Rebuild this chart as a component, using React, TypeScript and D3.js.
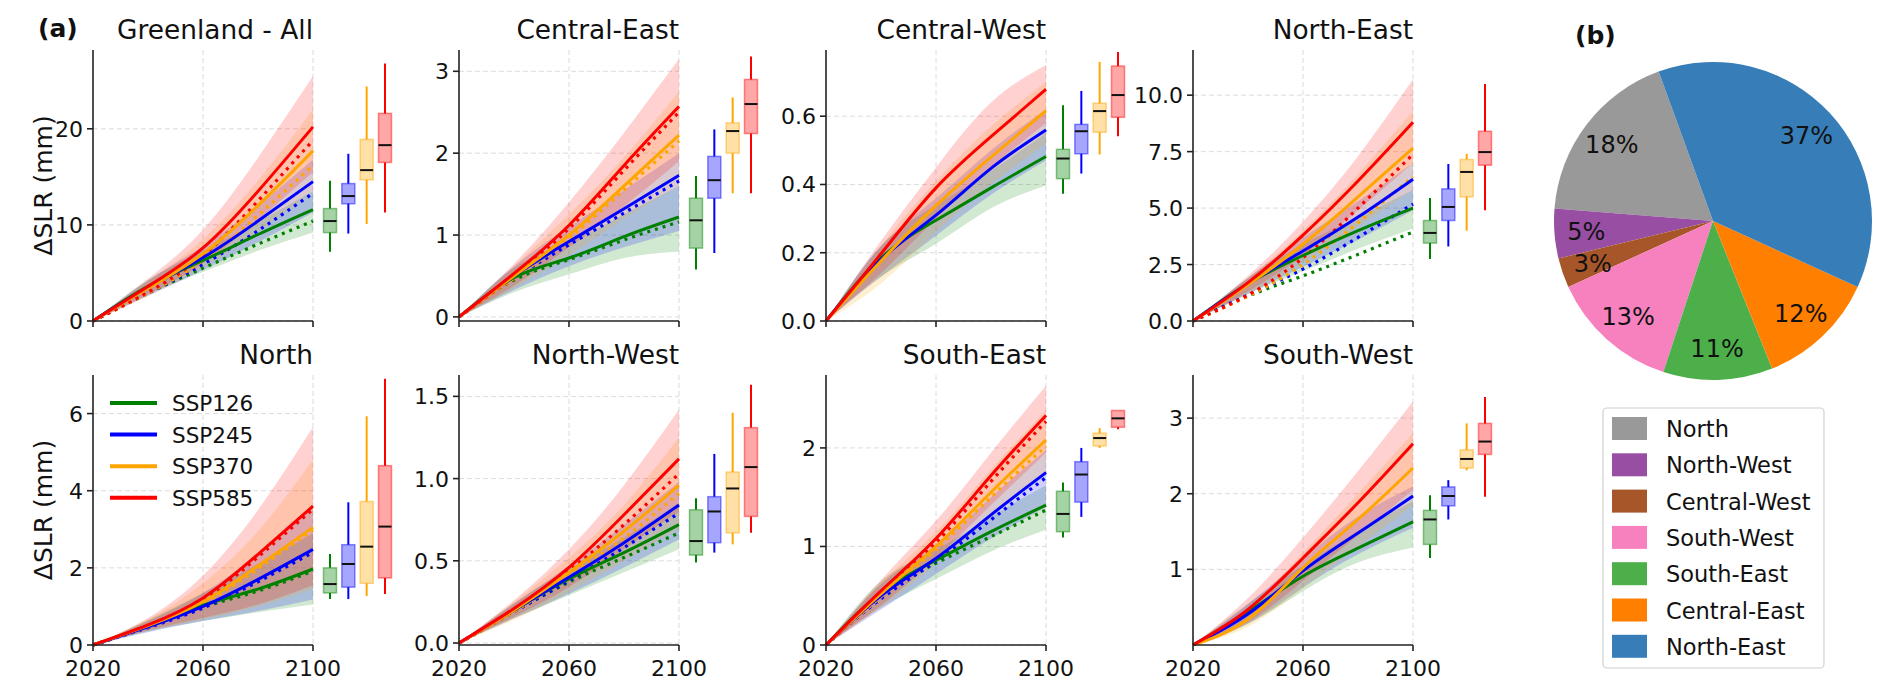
import * as d3 from "d3";

// ---- data ----
const years = [2020, 2040, 2060, 2080, 2100];
const scenarios = ["SSP126", "SSP245", "SSP370", "SSP585"];
const scenarioColors = ["green", "blue", "orange", "red"];

const regions = [
  "Greenland - All", "Central-East", "Central-West", "North-East",
  "North", "North-West", "South-East", "South-West",
];
const yDomains = [
  [0, 28.2], [-0.05, 3.26], [0, 0.794], [0, 12.0],
  [0, 7.0], [-0.012, 1.63], [0, 2.74], [0, 3.57],
];
const yTickValues = [
  [0, 10, 20], [0, 1, 2, 3], [0, 0.2, 0.4, 0.6], [0, 2.5, 5, 7.5, 10],
  [0, 2, 4, 6], [0, 0.5, 1, 1.5], [0, 1, 2], [1, 2, 3],
];
const yTickFormats = ["d", "d", ".1f", ".1f", "d", ".1f", "d", "d"];

// per region: [SSP126, SSP245, SSP370, SSP585] at years
// box = [whisker low, q1, median, q3, whisker high]
const glMid = [[0, 3.6, 6.3, 9.0, 11.6], [0, 3.5, 6.6, 10.4, 14.5], [0, 3.4, 7.0, 12.0, 17.7], [0, 3.6, 7.6, 13.5, 20.2]];
const glDot = [[0, 2.9, 5.5, 8.0, 10.4], [0, 2.9, 5.9, 9.4, 13.3], [0, 2.9, 6.3, 11.0, 16.2], [0, 3.0, 6.8, 12.5, 18.8]];
const glLo = [[0, 2.8, 5.1, 7.3, 9.2], [0, 2.6, 5.3, 8.2, 11.3], [0, 2.6, 5.6, 9.3, 13.5], [0, 2.7, 6.0, 10.5, 15.5]];
const glHi = [[0, 4.3, 7.3, 10.3, 13.5], [0, 4.2, 7.8, 12.0, 16.8], [0, 4.1, 8.5, 14.6, 22.0], [0, 4.4, 9.5, 17.0, 25.5]];
const glBox = [[7.2, 9.2, 10.4, 11.7, 14.6], [9.1, 12.2, 13.0, 14.3, 17.4], [10.1, 14.7, 15.7, 18.9, 24.4], [11.3, 16.5, 18.3, 21.6, 26.8]];

const ceMid = [[0, 0.48, 0.72, 0.98, 1.22], [0, 0.5, 0.92, 1.32, 1.73], [0, 0.5, 1.0, 1.6, 2.22], [0, 0.53, 1.12, 1.85, 2.57]];
const ceDot = [[0, 0.45, 0.7, 0.94, 1.16], [0, 0.47, 0.88, 1.27, 1.66], [0, 0.47, 0.96, 1.55, 2.15], [0, 0.5, 1.08, 1.79, 2.5]];
const ceLo = [[0, 0.3, 0.52, 0.72, 0.8], [0, 0.33, 0.62, 0.85, 1.05], [0, 0.35, 0.75, 1.2, 1.6], [0, 0.38, 0.85, 1.35, 1.9]];
const ceHi = [[0, 0.6, 0.92, 1.25, 1.6], [0, 0.62, 1.1, 1.55, 2.0], [0, 0.62, 1.25, 1.95, 2.75], [0, 0.65, 1.4, 2.25, 3.15]];
const ceBox = [[0.58, 0.84, 1.18, 1.45, 1.72], [0.78, 1.45, 1.67, 1.96, 2.29], [1.51, 2.0, 2.27, 2.37, 2.68], [1.51, 2.24, 2.6, 2.9, 3.18]];

const cwMid = [[0, 0.185, 0.295, 0.39, 0.482], [0, 0.18, 0.31, 0.447, 0.56], [0, 0.176, 0.338, 0.48, 0.616], [0, 0.197, 0.39, 0.54, 0.679]];
const cwLo = [[0, 0.13, 0.226, 0.33, 0.397], [0, 0.13, 0.25, 0.37, 0.47], [0, 0.11, 0.26, 0.4, 0.52], [0, 0.14, 0.3, 0.45, 0.58]];
const cwHi = [[0, 0.22, 0.34, 0.44, 0.55], [0, 0.22, 0.36, 0.5, 0.62], [0, 0.22, 0.41, 0.57, 0.7], [0, 0.235, 0.45, 0.64, 0.75]];
const cwBox = [[0.373, 0.417, 0.476, 0.503, 0.632], [0.432, 0.49, 0.556, 0.576, 0.674], [0.488, 0.553, 0.615, 0.638, 0.759], [0.541, 0.597, 0.662, 0.747, 0.788]];

const neMid = [[0, 1.65, 2.9, 4.0, 5.0], [0, 1.65, 3.1, 4.6, 6.28], [0, 1.6, 3.4, 5.5, 7.65], [0, 1.7, 3.8, 6.2, 8.8]];
const neDot = [[0, 1.1, 2.0, 2.95, 3.94], [0, 1.15, 2.3, 3.7, 5.18], [0, 1.1, 2.5, 4.35, 6.4], [0, 1.15, 2.8, 5.0, 7.38]];
const neLo = [[0, 1.2, 2.2, 3.2, 4.1], [0, 1.2, 2.4, 3.6, 4.9], [0, 1.2, 2.6, 4.2, 5.8], [0, 1.3, 2.9, 4.9, 7.0]];
const neHi = [[0, 1.9, 3.4, 4.6, 5.8], [0, 1.9, 3.7, 5.3, 7.0], [0, 1.9, 4.0, 6.5, 9.3], [0, 2.0, 4.4, 7.3, 10.7]];
const neBox = [[2.75, 3.45, 3.9, 4.45, 5.45], [3.3, 4.45, 5.05, 5.85, 6.95], [4.0, 5.5, 6.6, 7.15, 7.4], [4.9, 6.9, 7.48, 8.4, 10.5]];

const noMid = [[0, 0.5, 1.03, 1.45, 1.97], [0, 0.47, 1.0, 1.7, 2.48], [0, 0.5, 1.12, 2.05, 3.05], [0, 0.52, 1.22, 2.35, 3.6]];
const noDot = [[0, 0.47, 0.98, 1.4, 1.92], [0, 0.45, 0.96, 1.64, 2.4], [0, 0.47, 1.07, 1.98, 2.98], [0, 0.49, 1.17, 2.28, 3.52]];
const noLo = [[0, 0.35, 0.62, 0.85, 1.05], [0, 0.33, 0.62, 0.88, 1.18], [0, 0.36, 0.66, 1.0, 1.45], [0, 0.38, 0.7, 1.05, 1.55]];
const noHi = [[0, 0.65, 1.35, 2.1, 2.9], [0, 0.62, 1.35, 2.35, 3.6], [0, 0.66, 1.6, 2.95, 4.8], [0, 0.7, 1.8, 3.5, 5.65]];
const noBox = [[1.19, 1.35, 1.58, 2.0, 2.36], [1.19, 1.5, 2.1, 2.6, 3.7], [1.27, 1.6, 2.55, 3.72, 5.93], [1.32, 1.74, 3.07, 4.65, 6.9]];

const nwMid = [[0, 0.2, 0.39, 0.55, 0.72], [0, 0.2, 0.4, 0.61, 0.84], [0, 0.2, 0.43, 0.68, 0.96], [0, 0.21, 0.46, 0.78, 1.12]];
const nwDot = [[0, 0.19, 0.37, 0.52, 0.67], [0, 0.19, 0.38, 0.58, 0.79], [0, 0.19, 0.41, 0.64, 0.91], [0, 0.2, 0.44, 0.72, 1.03]];
const nwLo = [[0, 0.15, 0.29, 0.43, 0.57], [0, 0.15, 0.3, 0.46, 0.63], [0, 0.14, 0.31, 0.5, 0.7], [0, 0.16, 0.34, 0.57, 0.8]];
const nwHi = [[0, 0.24, 0.45, 0.64, 0.85], [0, 0.24, 0.47, 0.72, 0.98], [0, 0.25, 0.52, 0.84, 1.25], [0, 0.26, 0.57, 0.96, 1.42]];
const nwBox = [[0.49, 0.535, 0.62, 0.81, 0.88], [0.55, 0.61, 0.8, 0.89, 1.15], [0.6, 0.67, 0.94, 1.04, 1.4], [0.67, 0.77, 1.07, 1.31, 1.57]];

const seMid = [[0, 0.53, 0.86, 1.15, 1.42], [0, 0.5, 0.88, 1.32, 1.75], [0, 0.52, 1.0, 1.55, 2.08], [0, 0.55, 1.08, 1.72, 2.33]];
const seDot = [[0, 0.5, 0.83, 1.1, 1.37], [0, 0.47, 0.85, 1.27, 1.7], [0, 0.49, 0.97, 1.5, 2.02], [0, 0.52, 1.04, 1.66, 2.27]];
const seLo = [[0, 0.38, 0.67, 0.95, 1.17], [0, 0.36, 0.72, 1.08, 1.4], [0, 0.38, 0.82, 1.3, 1.75], [0, 0.4, 0.88, 1.42, 1.95]];
const seHi = [[0, 0.65, 0.97, 1.3, 1.62], [0, 0.62, 1.02, 1.5, 1.98], [0, 0.63, 1.15, 1.78, 2.38], [0, 0.66, 1.26, 1.95, 2.63]];
const seBox = [[1.09, 1.15, 1.33, 1.56, 1.65], [1.3, 1.45, 1.73, 1.86, 2.0], [2.0, 2.02, 2.1, 2.15, 2.2], [2.19, 2.21, 2.3, 2.38, 2.38]];

const swMid = [[0, 0.44, 0.91, 1.28, 1.63], [0, 0.41, 0.98, 1.48, 1.97], [0, 0.34, 1.02, 1.66, 2.34], [0, 0.47, 1.15, 1.88, 2.66]];
const swLo = [[0, 0.28, 0.71, 1.09, 1.29], [0, 0.28, 0.76, 1.2, 1.55], [0, 0.24, 0.75, 1.3, 1.85], [0, 0.3, 0.85, 1.45, 2.05]];
const swHi = [[0, 0.55, 1.05, 1.5, 1.9], [0, 0.54, 1.15, 1.7, 2.1], [0, 0.5, 1.22, 2.0, 2.8], [0, 0.62, 1.42, 2.3, 3.22]];
const swBox = [[1.15, 1.33, 1.66, 1.78, 1.98], [1.66, 1.84, 1.97, 2.09, 2.18], [2.31, 2.34, 2.46, 2.58, 2.93], [1.96, 2.52, 2.69, 2.93, 3.28]];

const regionMid = [glMid, ceMid, cwMid, neMid, noMid, nwMid, seMid, swMid];
const regionDot = [glDot, ceDot, null, neDot, noDot, nwDot, seDot, null];
const regionLo = [glLo, ceLo, cwLo, neLo, noLo, nwLo, seLo, swLo];
const regionHi = [glHi, ceHi, cwHi, neHi, noHi, nwHi, seHi, swHi];
const regionBox = [glBox, ceBox, cwBox, neBox, noBox, nwBox, seBox, swBox];

// pie (b)
const pieRegions = ["North", "North-West", "Central-West", "South-West", "South-East", "Central-East", "North-East"];
const pieShares = [18, 5, 3, 13, 11, 12, 37];
const pieColors = ["#999999", "#984ea3", "#a65628", "#f781bf", "#4daf4a", "#ff7f00", "#377eb8"];

// ---- layout ----
const W = 1892;
const H = 695;
const FONT = "DejaVu Sans";
const TICK_FS = 22;
const TITLE_FS = 26.4;
const LABEL_FS = 25;
const panelLeft = [93, 459, 826, 1193];
const panelTop = [50, 375];
const panelBottom = [321, 645];
const plotW = 220;

function Panel({ idx }: { idx: number }) {
  const col = idx % 4;
  const row = Math.floor(idx / 4);
  const left = panelLeft[col];
  const right = left + plotW;
  const top = panelTop[row];
  const bottom = panelBottom[row];

  const x = d3.scaleLinear().domain([2020, 2100]).range([left, right]);
  const y = d3.scaleLinear().domain(yDomains[idx]).range([bottom, top]);
  const bx = d3.scalePoint<string>().domain(scenarios).range([right + 17, right + 72]);
  const fmt = d3.format(yTickFormats[idx]);

  const mid = regionMid[idx];
  const dot = regionDot[idx];
  const lo = regionLo[idx];
  const hi = regionHi[idx];
  const box = regionBox[idx];

  const line = (vals: number[]) =>
    d3.line<number>().x((_, i) => x(years[i])).y((d) => y(d)).curve(d3.curveNatural)(vals) || "";
  const band = (a: number[], b: number[]) =>
    d3.area<number>()
      .x((_, i) => x(years[i]))
      .y0((_, i) => y(a[i]))
      .y1((_, i) => y(b[i]))
      .curve(d3.curveNatural)(years) || "";

  const boxW = 13;

  return (
    <g>
      {/* grid */}
      {yTickValues[idx].map((t) => (
        <line key={"gy" + t} x1={left} x2={right} y1={y(t)} y2={y(t)} stroke="#dcdcdc" strokeWidth={1} strokeDasharray="5,3" />
      ))}
      {[2060, 2100].map((t) => (
        <line key={"gx" + t} x1={x(t)} x2={x(t)} y1={top} y2={bottom} stroke="#dcdcdc" strokeWidth={1} strokeDasharray="5,3" />
      ))}

      {/* uncertainty bands */}
      {scenarios.map((s, k) => (
        <path key={"b" + s} d={band(lo[k], hi[k])} fill={scenarioColors[k]} fillOpacity={0.18} stroke="none" />
      ))}
      {/* dotted lines */}
      {dot &&
        scenarios.map((s, k) => (
          <path key={"d" + s} d={line(dot[k])} fill="none" stroke={scenarioColors[k]} strokeWidth={3.2} strokeDasharray="3,5" />
        ))}
      {/* median lines */}
      {scenarios.map((s, k) => (
        <path key={"m" + s} d={line(mid[k])} fill="none" stroke={scenarioColors[k]} strokeWidth={3} />
      ))}

      {/* box plots at 2100 */}
      {scenarios.map((s, k) => {
        const cx = bx(s) as number;
        const [wl, q1, md, q3, wh] = box[k];
        const c = scenarioColors[k];
        return (
          <g key={"bx" + s}>
            <line x1={cx} x2={cx} y1={y(wl)} y2={y(q1)} stroke={c} strokeWidth={2} />
            <line x1={cx} x2={cx} y1={y(q3)} y2={y(wh)} stroke={c} strokeWidth={2} />
            <rect x={cx - boxW / 2} y={y(q3)} width={boxW} height={Math.max(1, y(q1) - y(q3))}
              fill={c} fillOpacity={0.35} stroke={c} strokeOpacity={0.45} strokeWidth={1.5} />
            <line x1={cx - boxW / 2} x2={cx + boxW / 2} y1={y(md)} y2={y(md)} stroke="#111" strokeWidth={2} />
          </g>
        );
      })}

      {/* axes */}
      <line x1={left} x2={left} y1={top} y2={bottom} stroke="#222" strokeWidth={1.6} />
      <line x1={left} x2={right} y1={bottom} y2={bottom} stroke="#222" strokeWidth={1.6} />
      {yTickValues[idx].map((t) => (
        <g key={"ty" + t}>
          <line x1={left - 6} x2={left} y1={y(t)} y2={y(t)} stroke="#222" strokeWidth={1.6} />
          <text x={left - 10} y={y(t) + 8} textAnchor="end" fontSize={TICK_FS} fontFamily={FONT} fill="#111">
            {fmt(t)}
          </text>
        </g>
      ))}
      {[2020, 2060, 2100].map((t) => (
        <g key={"tx" + t}>
          <line x1={x(t)} x2={x(t)} y1={bottom} y2={bottom + 6} stroke="#222" strokeWidth={1.6} />
          {row === 1 && (
            <text x={x(t)} y={bottom + 31} textAnchor="middle" fontSize={TICK_FS} fontFamily={FONT} fill="#111">
              {t}
            </text>
          )}
        </g>
      ))}

      {/* title */}
      <text x={right} y={top - 11} textAnchor="end" fontSize={TITLE_FS} fontFamily={FONT} fill="#111">
        {regions[idx]}
      </text>

      {/* scenario legend in North panel */}
      {idx === 4 &&
        scenarios.map((s, k) => (
          <g key={"lg" + s}>
            <line x1={left + 17} x2={left + 64} y1={top + 28 + k * 31.6} y2={top + 28 + k * 31.6}
              stroke={scenarioColors[k]} strokeWidth={4} />
            <text x={left + 79} y={top + 28 + k * 31.6 + 8} fontSize={21.5} fontFamily={FONT} fill="#111">
              {s}
            </text>
          </g>
        ))}
    </g>
  );
}

function PiePanel() {
  const cx = 1713;
  const cy = 221;
  const r = 159;
  const start = (-20 * Math.PI) / 180;
  const pie = d3.pie<number>().sort(null).startAngle(start).endAngle(start - 2 * Math.PI);
  const arcs = pie(pieShares);
  const arc = d3.arc<d3.PieArcDatum<number>>().innerRadius(0).outerRadius(r);
  const labelArc = d3.arc<d3.PieArcDatum<number>>().innerRadius(r * 0.8).outerRadius(r * 0.8);

  const lgX = 1603;
  const lgY = 408;
  const rowH = 36.3;

  return (
    <g>
      <text x={1575} y={44} fontSize={LABEL_FS} fontWeight="bold" fontFamily={FONT} fill="#111">(b)</text>
      <g transform={`translate(${cx},${cy})`}>
        {arcs.map((a, i) => (
          <path key={pieRegions[i]} d={arc(a) || ""} fill={pieColors[i]} />
        ))}
        {arcs.map((a, i) => {
          const [lx, ly] = labelArc.centroid(a);
          return (
            <text key={"l" + pieRegions[i]} x={lx} y={ly + 9} textAnchor="middle"
              fontSize={24} fontFamily={FONT} fill="#111">
              {pieShares[i]}%
            </text>
          );
        })}
      </g>
      <rect x={lgX} y={lgY} width={221} height={260} rx={4} fill="white" stroke="#d0d0d0" strokeWidth={1.2} />
      {pieRegions.map((name, i) => (
        <g key={"pl" + name}>
          <rect x={lgX + 9} y={lgY + 9 + i * rowH} width={35} height={23} fill={pieColors[i]} />
          <text x={lgX + 63} y={lgY + 9 + i * rowH + 20} fontSize={22.5} fontFamily={FONT} fill="#111">
            {name}
          </text>
        </g>
      ))}
    </g>
  );
}

export default function App() {
  return (
    <svg width={W} height={H} viewBox={`0 0 ${W} ${H}`}
      style={{ position: "absolute", left: 0, top: 0, background: "white" }}>
      <rect width={W} height={H} fill="white" />
      <text x={38} y={37} fontSize={LABEL_FS} fontWeight="bold" fontFamily={FONT} fill="#111">(a)</text>
      {[0, 1].map((row) => (
        <text key={"yl" + row} transform={`translate(52,${(panelTop[row] + panelBottom[row]) / 2}) rotate(-90)`}
          textAnchor="middle" fontSize={LABEL_FS} fontFamily={FONT} fill="#111">
          ΔSLR (mm)
        </text>
      ))}
      {regions.map((_, i) => (
        <Panel key={regions[i]} idx={i} />
      ))}
      <PiePanel />
    </svg>
  );
}
